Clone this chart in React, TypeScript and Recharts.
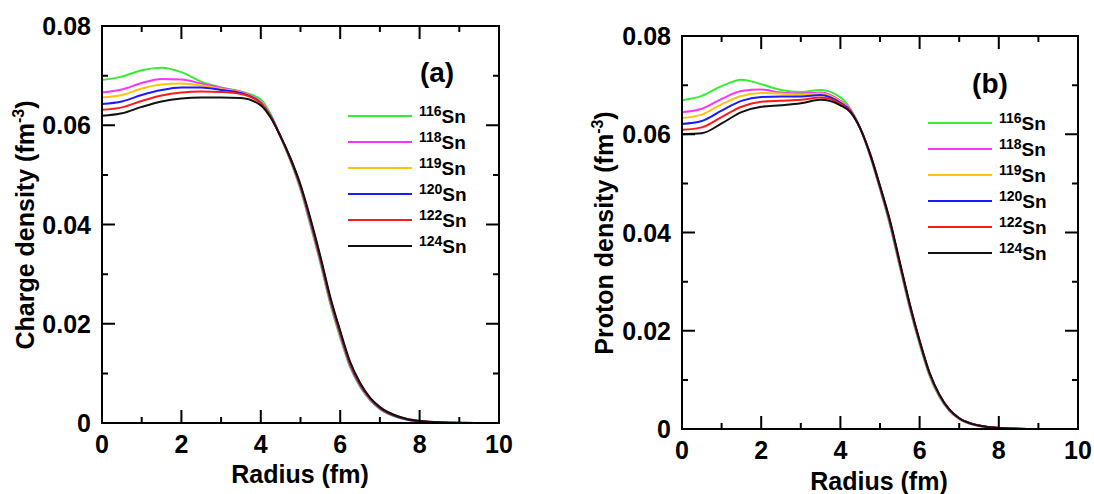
import React from "react";
import { LineChart, Line, XAxis, YAxis } from "recharts";

// radius grid (fm)
const RADIUS = [0, 0.5, 1, 1.5, 2, 2.5, 3, 3.5, 4, 4.25, 4.5, 4.75, 5, 5.25, 5.5, 5.75, 6, 6.25, 6.5, 6.75, 7, 7.5, 8, 9, 10];

const ISOTOPES = ["116", "118", "119", "120", "122", "124"];
const COLORS = ["#33ee33", "#ff33ff", "#ffc20e", "#1a1aff", "#ff1a1a", "#111111"];

// (a) charge density
const CHARGE_116 = [0.0691, 0.0698, 0.0711, 0.0716, 0.0707, 0.0688, 0.0676, 0.0668, 0.0652, 0.0622, 0.0576, 0.0527, 0.047, 0.0398, 0.0322, 0.024, 0.0172, 0.0112, 0.0073, 0.0046, 0.0028, 0.001, 0.0003, 0.00002, 0];
const CHARGE_118 = [0.0666, 0.0672, 0.0685, 0.0693, 0.0692, 0.0684, 0.0675, 0.0667, 0.0647, 0.0619, 0.0576, 0.0529, 0.0473, 0.0402, 0.0326, 0.0244, 0.0176, 0.0115, 0.0075, 0.0047, 0.0029, 0.0011, 0.0003, 0.00002, 0];
const CHARGE_119 = [0.0656, 0.0661, 0.0674, 0.0682, 0.0684, 0.068, 0.0673, 0.0666, 0.0646, 0.0618, 0.0576, 0.053, 0.0474, 0.0404, 0.0328, 0.0246, 0.0178, 0.0117, 0.0076, 0.0048, 0.003, 0.0011, 0.0003, 0.00002, 0];
const CHARGE_120 = [0.0643, 0.0648, 0.0661, 0.0671, 0.0676, 0.0676, 0.0671, 0.0665, 0.0645, 0.0618, 0.0577, 0.0531, 0.0476, 0.0406, 0.033, 0.0248, 0.018, 0.0118, 0.0077, 0.0049, 0.003, 0.0011, 0.0003, 0.00002, 0];
const CHARGE_122 = [0.0631, 0.0636, 0.0649, 0.066, 0.0666, 0.0668, 0.0667, 0.0663, 0.0644, 0.0617, 0.0577, 0.0532, 0.0478, 0.0409, 0.0333, 0.0251, 0.0183, 0.012, 0.0079, 0.005, 0.0031, 0.0012, 0.0004, 0.00003, 0];
const CHARGE_124 = [0.0619, 0.0624, 0.0637, 0.0648, 0.0654, 0.0656, 0.0656, 0.0655, 0.064, 0.0615, 0.0577, 0.0533, 0.048, 0.0412, 0.0336, 0.0254, 0.0186, 0.0123, 0.0081, 0.0051, 0.0032, 0.0012, 0.0004, 0.00003, 0];

// (b) proton density
const PROTON_116 = [0.0669, 0.0678, 0.0698, 0.0711, 0.0702, 0.069, 0.0686, 0.069, 0.0675, 0.0652, 0.0612, 0.0556, 0.0488, 0.0415, 0.033, 0.0246, 0.0172, 0.0108, 0.0065, 0.0037, 0.002, 0.0006, 0.0002, 0.00001, 0];
const PROTON_118 = [0.0645, 0.0652, 0.0672, 0.0688, 0.0691, 0.0685, 0.0683, 0.0685, 0.0668, 0.065, 0.0612, 0.0557, 0.049, 0.0418, 0.0333, 0.0249, 0.0175, 0.0111, 0.0067, 0.0038, 0.0021, 0.0006, 0.0002, 0.00001, 0];
const PROTON_119 = [0.0633, 0.064, 0.0661, 0.0678, 0.0684, 0.0683, 0.0681, 0.0683, 0.0666, 0.0649, 0.0612, 0.0558, 0.0491, 0.042, 0.0335, 0.0251, 0.0177, 0.0112, 0.0068, 0.0039, 0.0021, 0.0007, 0.0002, 0.00001, 0];
const PROTON_120 = [0.0621, 0.0627, 0.0648, 0.0668, 0.0676, 0.0677, 0.0677, 0.068, 0.0664, 0.0648, 0.0612, 0.0559, 0.0492, 0.0421, 0.0336, 0.0252, 0.0178, 0.0113, 0.0069, 0.0039, 0.0022, 0.0007, 0.0002, 0.00001, 0];
const PROTON_122 = [0.0609, 0.0614, 0.0635, 0.0656, 0.0666, 0.0668, 0.067, 0.0675, 0.0662, 0.0646, 0.0612, 0.056, 0.0494, 0.0423, 0.0338, 0.0254, 0.0179, 0.0114, 0.007, 0.004, 0.0022, 0.0007, 0.0002, 0.00001, 0];
const PROTON_124 = [0.06, 0.0602, 0.0622, 0.0645, 0.0656, 0.0659, 0.0663, 0.067, 0.0659, 0.0645, 0.0612, 0.056, 0.0495, 0.0425, 0.034, 0.0255, 0.018, 0.0115, 0.007, 0.004, 0.0022, 0.0007, 0.0002, 0.00001, 0];

const X_DOMAIN = [0, 10];
const Y_DOMAIN = [0, 0.08];
const X_TICKS = [0, 1, 2, 3, 4, 5, 6, 7, 8, 9, 10];
const X_TICK_LABELS = ["0", "", "2", "", "4", "", "6", "", "8", "", "10"];
const Y_TICKS = [0, 0.01, 0.02, 0.03, 0.04, 0.05, 0.06, 0.07, 0.08];
const Y_TICK_LABELS = ["0", "", "0.02", "", "0.04", "", "0.06", "", "0.08"];

const FONT = "'Liberation Sans', Arial, sans-serif";
const INK = "#000000";

// plot boxes in page pixels: the charts' margins are derived from these
const BOX_A = { x0: 102, x1: 499, y0: 26, y1: 423 };
const BOX_B = { x0: 682, x1: 1078, y0: 36, y1: 429 };

function buildRows(series: number[][]) {
  return RADIUS.map((r, i) => {
    const row: any = { r };
    series.forEach((s, k) => {
      row["s" + ISOTOPES[k]] = s[i];
    });
    return row;
  });
}

const chargeRows = buildRows([CHARGE_116, CHARGE_118, CHARGE_119, CHARGE_120, CHARGE_122, CHARGE_124]);
const protonRows = buildRows([PROTON_116, PROTON_118, PROTON_119, PROTON_120, PROTON_122, PROTON_124]);

// tick labels only (tick marks are drawn with the frame)
function makeTick(side: string, labels: string[]) {
  return (props: any) => {
    const { x, y, index } = props;
    const label = labels[index] || "";
    if (!label) return <g />;
    if (side === "bottom")
      return (
        <text x={x} y={y + 30} textAnchor="middle" fontSize={25} fontWeight="bold" fontFamily={FONT} fill={INK}>
          {label}
        </text>
      );
    return (
      <text x={x - 11} y={y + 9} textAnchor="end" fontSize={25} fontWeight="bold" fontFamily={FONT} fill={INK}>
        {label}
      </text>
    );
  };
}

function Panel({ rows, left, width, box }: any) {
  const xAxisHeight = 50;
  const margin = {
    top: box.y0,
    right: left + width - box.x1,
    bottom: 494 - box.y1 - xAxisHeight,
    left: 0,
  };
  return (
    <div style={{ position: "absolute", left, top: 0 }}>
      <LineChart width={width} height={494} data={rows} margin={margin}>
        <XAxis
          dataKey="r"
          type="number"
          domain={X_DOMAIN}
          ticks={X_TICKS}
          interval={0}
          height={xAxisHeight}
          tickSize={0}
          tickMargin={0}
          tickLine={false}
          axisLine={false}
          tick={makeTick("bottom", X_TICK_LABELS)}
        />
        <YAxis
          type="number"
          domain={Y_DOMAIN}
          ticks={Y_TICKS}
          interval={0}
          width={box.x0 - left}
          tickSize={0}
          tickMargin={0}
          tickLine={false}
          axisLine={false}
          tick={makeTick("left", Y_TICK_LABELS)}
        />
        {ISOTOPES.map((iso, k) => (
          <Line
            key={iso}
            type="monotone"
            dataKey={"s" + iso}
            stroke={COLORS[k]}
            strokeWidth={2}
            dot={false}
            activeDot={false}
            isAnimationActive={false}
          />
        ))}
      </LineChart>
    </div>
  );
}

// box with inward ticks on all four sides
function Frame({ box }: any) {
  const { x0, x1, y0, y1 } = box;
  const px = (v: number) => x0 + ((v - X_DOMAIN[0]) / (X_DOMAIN[1] - X_DOMAIN[0])) * (x1 - x0);
  const py = (v: number) => y1 - ((v - Y_DOMAIN[0]) / (Y_DOMAIN[1] - Y_DOMAIN[0])) * (y1 - y0);
  let d = "";
  X_TICKS.forEach((v, i) => {
    const len = X_TICK_LABELS[i] ? 13 : 6;
    const x = px(v);
    d += `M${x},${y1}V${y1 - len}M${x},${y0}V${y0 + len}`;
  });
  Y_TICKS.forEach((v, i) => {
    const len = Y_TICK_LABELS[i] ? 13 : 6;
    const y = py(v);
    d += `M${x0},${y}H${x0 + len}M${x1},${y}H${x1 - len}`;
  });
  return (
    <g>
      <rect x={x0} y={y0} width={x1 - x0} height={y1 - y0} fill="none" stroke={INK} strokeWidth={2} />
      <path d={d} stroke={INK} strokeWidth={2} fill="none" />
    </g>
  );
}

function Legend({ lineX, textX, rowY }: { lineX: number; textX: number; rowY: number }) {
  return (
    <g>
      {ISOTOPES.map((iso, k) => {
        const y = rowY + 26 * k;
        return (
          <g key={iso}>
            <line x1={lineX} x2={lineX + 64} y1={y} y2={y} stroke={COLORS[k]} strokeWidth={2} />
            <text x={textX} y={y + 7} fontFamily={FONT} fontWeight="bold" fill={INK}>
              <tspan fontSize={14} dy={-7}>
                {iso}
              </tspan>
              <tspan fontSize={19} dy={7}>
                Sn
              </tspan>
            </text>
          </g>
        );
      })}
    </g>
  );
}

function YTitle({ cx, cy, name }: { cx: number; cy: number; name: string }) {
  return (
    <text
      transform={`translate(${cx},${cy}) rotate(-90)`}
      textAnchor="middle"
      dy={9}
      fontSize={25}
      fontWeight="bold"
      fontFamily={FONT}
      fill={INK}
    >
      {name} (fm
      <tspan fontSize={16} dy={-10}>
        -3
      </tspan>
      <tspan dy={10}>)</tspan>
    </text>
  );
}

export default function App() {
  return (
    <div style={{ position: "absolute", left: 0, top: 0, width: 1094, height: 494, background: "#ffffff" }}>
      <Panel rows={chargeRows} left={0} width={550} box={BOX_A} />
      <Panel rows={protonRows} left={560} width={534} box={BOX_B} />
      <svg width={1094} height={494} style={{ position: "absolute", left: 0, top: 0, pointerEvents: "none" }}>
        <Frame box={BOX_A} />
        <Frame box={BOX_B} />
        <text x={300} y={483} textAnchor="middle" fontSize={25} fontWeight="bold" fontFamily={FONT} fill={INK}>
          Radius (fm)
        </text>
        <text x={879} y={490} textAnchor="middle" fontSize={25} fontWeight="bold" fontFamily={FONT} fill={INK}>
          Radius (fm)
        </text>
        <YTitle cx={25} cy={225} name="Charge density" />
        <YTitle cx={604} cy={233} name="Proton density" />
        <text x={437} y={82} textAnchor="middle" fontSize={28} fontWeight="bold" fontFamily={FONT} fill={INK}>
          (a)
        </text>
        <text x={990} y={93} textAnchor="middle" fontSize={28} fontWeight="bold" fontFamily={FONT} fill={INK}>
          (b)
        </text>
        <Legend lineX={348} textX={419} rowY={116} />
        <Legend lineX={928} textX={999} rowY={123} />
      </svg>
    </div>
  );
}
